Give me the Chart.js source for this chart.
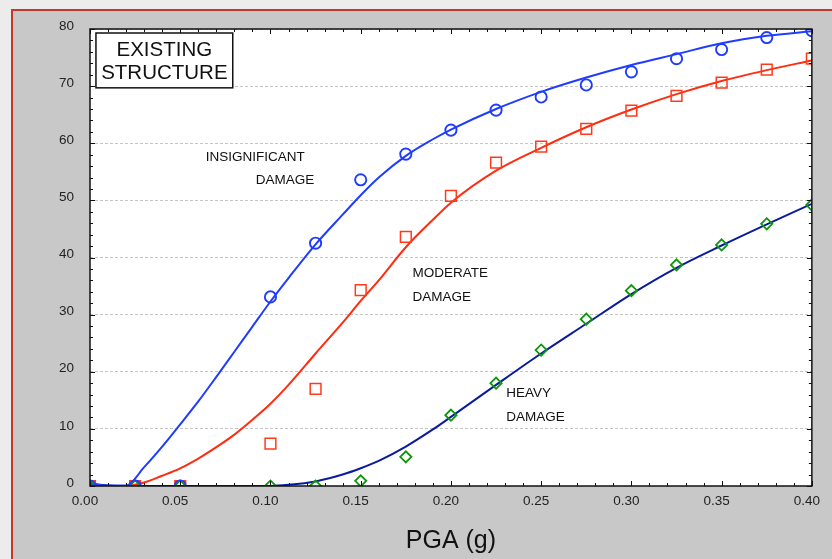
<!DOCTYPE html>
<html>
<head>
<meta charset="utf-8">
<script src="https://cdn.jsdelivr.net/npm/chart.js@4/dist/chart.umd.min.js"></script>
<style>
html,body{margin:0;padding:0;width:832px;height:559px;overflow:hidden;background:#ececec;}
#frame{position:absolute;left:11px;top:9px;width:821px;height:550px;background:#c8c8c8;border-left:2px solid #c0392b;border-top:2px solid #c0392b;}
#wrap{position:absolute;left:0;top:0;width:832px;height:559px;}
</style>
</head>
<body>
<div id="frame"></div>
<div id="wrap"><canvas id="c" width="832" height="559"></canvas></div>
<script>
// ---- observed points (markers) ----
const markerPGA = [0, 0.025, 0.05, 0.10, 0.125, 0.15, 0.175, 0.20, 0.225, 0.25, 0.275, 0.30, 0.325, 0.35, 0.375, 0.40];
const insignificantObs = [0, 0, 0, 33.1, 42.5, 53.6, 58.1, 62.3, 65.8, 68.1, 70.2, 72.5, 74.8, 76.4, 78.5, 79.7];
const moderateObs      = [0, 0, 0, 7.4, 17.0, 34.3, 43.6, 50.8, 56.6, 59.4, 62.5, 65.7, 68.3, 70.6, 72.9, 74.8];
const heavyObs         = [0, 0, 0, 0, 0, 0.9, 5.1, 12.4, 18.0, 23.8, 29.2, 34.2, 38.7, 42.2, 45.9, 49.2];

// ---- fitted curves ----
const curvePGA = [0, 0.01, 0.02, 0.03, 0.04, 0.05, 0.06, 0.07, 0.08, 0.09, 0.10, 0.11, 0.125, 0.14, 0.15, 0.16, 0.175, 0.19, 0.20, 0.225, 0.25, 0.275, 0.30, 0.325, 0.35, 0.375, 0.40];
const insignificantFit = [0.4, 0.1, 0.1, 3.3, 6.9, 10.8, 14.8, 19.1, 23.5, 27.9, 32.3, 36.4, 42.3, 47.5, 50.9, 54.0, 57.8, 60.7, 62.4, 66.0, 69.0, 71.5, 73.7, 75.6, 77.5, 78.8, 79.6];
const moderateFit      = [0, 0, 0, 0.6, 1.8, 3.1, 4.8, 6.8, 9.0, 11.6, 14.4, 17.7, 23.2, 28.6, 32.4, 36.0, 41.8, 46.6, 49.6, 55.2, 59.2, 62.8, 65.9, 68.6, 70.9, 72.8, 74.5];
const heavyFit         = [0.4, 0.1, 0, 0, 0, 0, 0, 0, 0, 0, 0, 0.2, 0.8, 2.0, 3.1, 4.4, 6.9, 9.9, 12.1, 17.7, 23.2, 28.4, 33.6, 38.2, 42.1, 45.8, 49.4];

// ---- axis ticks / labels ----
const xTickLabels = ['0.00', '0.05', '0.10', '0.15', '0.20', '0.25', '0.30', '0.35', '0.40'];
const yTickLabels = ['0', '10', '20', '30', '40', '50', '60', '70', '80'];
const xTitle = 'PGA (g)';
const boxLines = ['EXISTING', 'STRUCTURE'];
const curveNotes = [
  { text: 'INSIGNIFICANT', x: 0.0642, y: 57.6 },
  { text: 'DAMAGE',        x: 0.0918, y: 53.6 },
  { text: 'MODERATE',      x: 0.1787, y: 37.3 },
  { text: 'DAMAGE',        x: 0.1787, y: 33.1 },
  { text: 'HEAVY',         x: 0.2306, y: 16.3 },
  { text: 'DAMAGE',        x: 0.2306, y: 12.1 }
];

const pts = (xs, ys) => xs.map((v, i) => ({ x: v, y: ys[i] }));

const FONT = '"Liberation Sans", Arial, sans-serif';

const framePlugin = {
  id: 'framePlugin',
  beforeDraw(chart) {
    const { ctx, chartArea: a } = chart;
    ctx.save();
    ctx.fillStyle = '#ffffff';
    ctx.fillRect(a.left, a.top, a.right - a.left, a.bottom - a.top);
    ctx.restore();
  },
  afterDraw(chart) {
    const { ctx, chartArea: a, scales: { x, y } } = chart;
    ctx.save();
    // frame
    ctx.strokeStyle = '#111';
    ctx.lineWidth = 1.5;
    ctx.strokeRect(a.left, a.top, a.right - a.left, a.bottom - a.top);
    // ticks on all four sides, pointing inward
    ctx.lineWidth = 1;
    ctx.beginPath();
    for (let i = 0; i <= 40; i++) {
      const px = Math.round(x.getPixelForValue(i / 100)) + 0.5;
      const len = i % 5 === 0 ? 5 : 3;
      ctx.moveTo(px, a.bottom); ctx.lineTo(px, a.bottom - len);
      ctx.moveTo(px, a.top); ctx.lineTo(px, a.top + len);
    }
    for (let j = 0; j <= 40; j++) {
      const py = Math.round(y.getPixelForValue(j * 2)) + 0.5;
      const len = j % 5 === 0 ? 5 : 3;
      ctx.moveTo(a.left, py); ctx.lineTo(a.left + len, py);
      ctx.moveTo(a.right, py); ctx.lineTo(a.right - len, py);
    }
    ctx.stroke();
    // curve notes
    ctx.fillStyle = '#111';
    ctx.font = '13.5px ' + FONT;
    ctx.textAlign = 'left';
    ctx.textBaseline = 'middle';
    curveNotes.forEach(n => ctx.fillText(n.text, x.getPixelForValue(n.x), y.getPixelForValue(n.y)));
    // title box
    const bx0 = x.getPixelForValue(0.0033), bx1 = x.getPixelForValue(0.0791);
    const by0 = y.getPixelForValue(79.3), by1 = y.getPixelForValue(69.7);
    ctx.fillStyle = '#fff';
    ctx.fillRect(bx0, by0, bx1 - bx0, by1 - by0);
    ctx.strokeStyle = '#111';
    ctx.lineWidth = 1.5;
    ctx.strokeRect(bx0, by0, bx1 - bx0, by1 - by0);
    ctx.fillStyle = '#111';
    ctx.font = '20.5px ' + FONT;
    ctx.textAlign = 'center';
    const cx = (bx0 + bx1) / 2, h = by1 - by0;
    ctx.fillText(boxLines[0], cx, by0 + h * 0.31);
    ctx.fillText(boxLines[1], cx, by0 + h * 0.73);
    ctx.restore();
  }
};

new Chart(document.getElementById('c'), {
  type: 'scatter',
  data: {
    datasets: [
      { label: 'Insignificant (obs)', data: pts(markerPGA, insignificantObs), pointStyle: 'circle', pointRadius: 5.6, borderColor: '#1f3cff', backgroundColor: 'rgba(0,0,0,0)', borderWidth: 1.9, showLine: false },
      { label: 'Moderate (obs)', data: pts(markerPGA, moderateObs), pointStyle: 'rect', pointRadius: 7.6, borderColor: '#ff3a1a', backgroundColor: 'rgba(0,0,0,0)', borderWidth: 1.5, showLine: false },
      { label: 'Heavy (obs)', data: pts(markerPGA, heavyObs), pointStyle: 'rectRot', pointRadius: 5.6, borderColor: '#0c960c', backgroundColor: 'rgba(0,0,0,0)', borderWidth: 1.8, showLine: false },
      { label: 'Insignificant', data: pts(curvePGA, insignificantFit), showLine: true, pointRadius: 0, borderColor: '#1f3cff', borderWidth: 2, cubicInterpolationMode: 'monotone' },
      { label: 'Moderate', data: pts(curvePGA, moderateFit), showLine: true, pointRadius: 0, borderColor: '#ff2c10', borderWidth: 2, cubicInterpolationMode: 'monotone' },
      { label: 'Heavy', data: pts(curvePGA, heavyFit), showLine: true, pointRadius: 0, borderColor: '#0a1c9c', borderWidth: 2, cubicInterpolationMode: 'monotone' }
    ]
  },
  options: {
    responsive: false,
    animation: false,
    devicePixelRatio: 1,
    layout: { padding: { left: 0, right: 19, top: 29, bottom: 0 } },
    plugins: { legend: { display: false }, tooltip: { enabled: false } },
    scales: {
      x: {
        type: 'linear', min: 0, max: 0.4,
        afterFit(s) { s.height = 73; },
        grid: { display: false, drawTicks: false },
        border: { display: false },
        ticks: {
          stepSize: 0.05, padding: 7, labelOffset: -5, color: '#222',
          font: { family: FONT, size: 13.5 },
          callback: (v, i) => xTickLabels[Math.round(v / 0.05)] ?? ''
        },
        title: { display: true, text: xTitle, color: '#111', font: { family: FONT, size: 25 }, padding: { top: 0, bottom: 3 } }
      },
      y: {
        type: 'linear', min: 0, max: 80,
        afterFit(s) { s.width = 90; },
        grid: { display: true, drawTicks: false, color: '#c4c4c4', lineWidth: 1 },
        border: { display: false, dash: [3, 2] },
        ticks: {
          stepSize: 10, padding: 16, labelOffset: -3, color: '#222',
          font: { family: FONT, size: 13.5 },
          callback: (v) => yTickLabels[Math.round(v / 10)] ?? ''
        }
      }
    }
  },
  plugins: [framePlugin]
});
</script>
</body>
</html>
